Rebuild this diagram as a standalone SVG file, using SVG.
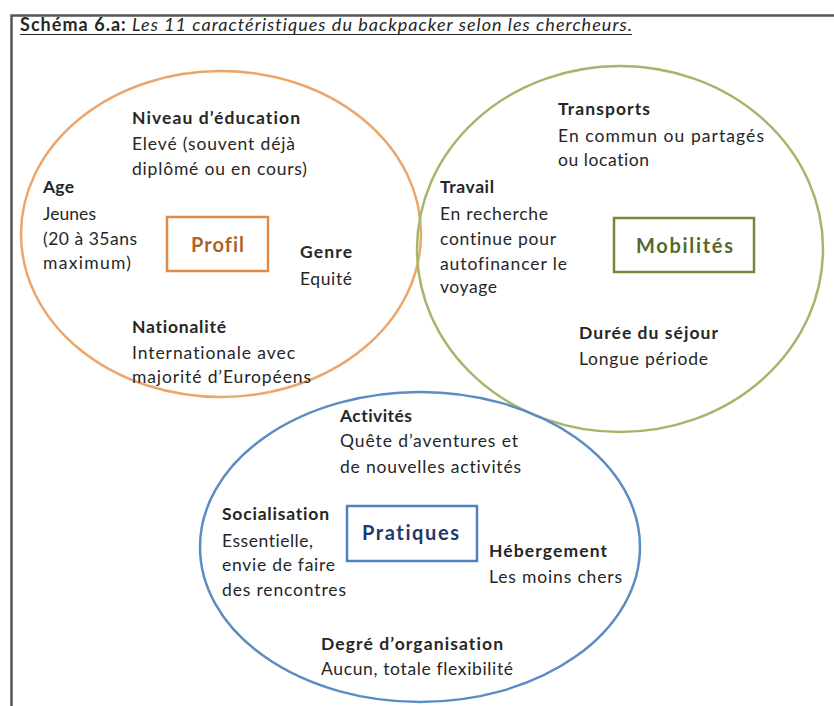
<svg xmlns="http://www.w3.org/2000/svg" width="834" height="706" viewBox="0 0 834 706">
<style>
text{font-family:Lato,"Open Sans","Liberation Sans",sans-serif;font-size:17.5px;fill:#262626;font-variant-ligatures:none}
.b{font-weight:bold}
.frame{stroke:#555;stroke-width:2.5;fill:none}
.c{fill:none;stroke-width:2.5}
.box{fill:none;stroke-width:2.5}
.lbl{font-size:20px;font-weight:bold}
</style>
<rect width="834" height="706" fill="#fff"/>
<path class="frame" d="M11.5 706 V15.5 H834"/>
<g id="title">
<text x="20" y="31" style="font-size:18px" textLength="612"><tspan class="b">Schéma 6.a:</tspan><tspan font-style="italic"> Les 11 caractéristiques du backpacker selon les chercheurs.</tspan></text>
<line x1="20" y1="34.5" x2="632" y2="34.5" stroke="#262626" stroke-width="1.2"/>
</g>
<g id="profil">
<ellipse class="c" cx="221" cy="234" rx="200" ry="163" stroke="#EDA66A"/>
<rect class="box" x="167" y="217" width="101" height="54" stroke="#E08A48"/>
<text class="lbl" x="191" y="252" textLength="53" style="fill:#B0622C">Profil</text>
<text class="b" x="132" y="124" textLength="168">Niveau d’éducation</text>
<text x="132" y="150" textLength="163">Elevé (souvent déjà</text>
<text x="132" y="175" textLength="175">diplômé ou en cours)</text>
<text class="b" x="43" y="193" textLength="31">Age</text>
<text x="43" y="220" textLength="53">Jeunes</text>
<text x="43" y="245" textLength="94">(20 à 35ans</text>
<text x="43" y="269" textLength="88">maximum)</text>
<text class="b" x="300" y="258" textLength="52">Genre</text>
<text x="300" y="285" textLength="52">Equité</text>
<text class="b" x="132" y="333" textLength="94">Nationalité</text>
<text x="132" y="359" textLength="163">Internationale avec</text>
<text x="132" y="383" textLength="179">majorité d’Européens</text>
</g>
<g id="mobilites">
<ellipse class="c" cx="620" cy="249" rx="203" ry="183" stroke="#A3B76A"/>
<rect class="box" x="614" y="218" width="140" height="54" stroke="#76883C"/>
<text class="lbl" x="636" y="253" textLength="97" style="fill:#56682C">Mobilités</text>
<text class="b" x="558" y="115" textLength="92">Transports</text>
<text x="558" y="142" textLength="206">En commun ou partagés</text>
<text x="558" y="166" textLength="91">ou location</text>
<text class="b" x="440" y="193" textLength="54">Travail</text>
<text x="440" y="220" textLength="108">En recherche</text>
<text x="440" y="245" textLength="116">continue pour</text>
<text x="440" y="270" textLength="127">autofinancer le</text>
<text x="440" y="293" textLength="57">voyage</text>
<text class="b" x="579" y="339" textLength="139">Durée du séjour</text>
<text x="579" y="365" textLength="129">Longue période</text>
</g>
<g id="pratiques">
<ellipse class="c" cx="420" cy="547" rx="220" ry="155" stroke="#5B8CC4"/>
<rect class="box" x="347" y="506" width="130" height="55" stroke="#4F81BD"/>
<text class="lbl" x="362" y="540" textLength="97" style="fill:#1F3A6E">Pratiques</text>
<text class="b" x="340" y="422" textLength="72">Activités</text>
<text x="340" y="447" textLength="178">Quête d’aventures et</text>
<text x="340" y="473" textLength="181">de nouvelles activités</text>
<text class="b" x="222" y="520" textLength="107">Socialisation</text>
<text x="222" y="547" textLength="91">Essentielle,</text>
<text x="222" y="571" textLength="113">envie de faire</text>
<text x="222" y="596" textLength="124">des rencontres</text>
<text class="b" x="489" y="557" textLength="118">Hébergement</text>
<text x="489" y="583" textLength="133">Les moins chers</text>
<text class="b" x="321" y="650" textLength="182">Degré d’organisation</text>
<text x="321" y="675" textLength="192">Aucun, totale flexibilité</text>
</g>
<g id="connectors"></g>
</svg>
